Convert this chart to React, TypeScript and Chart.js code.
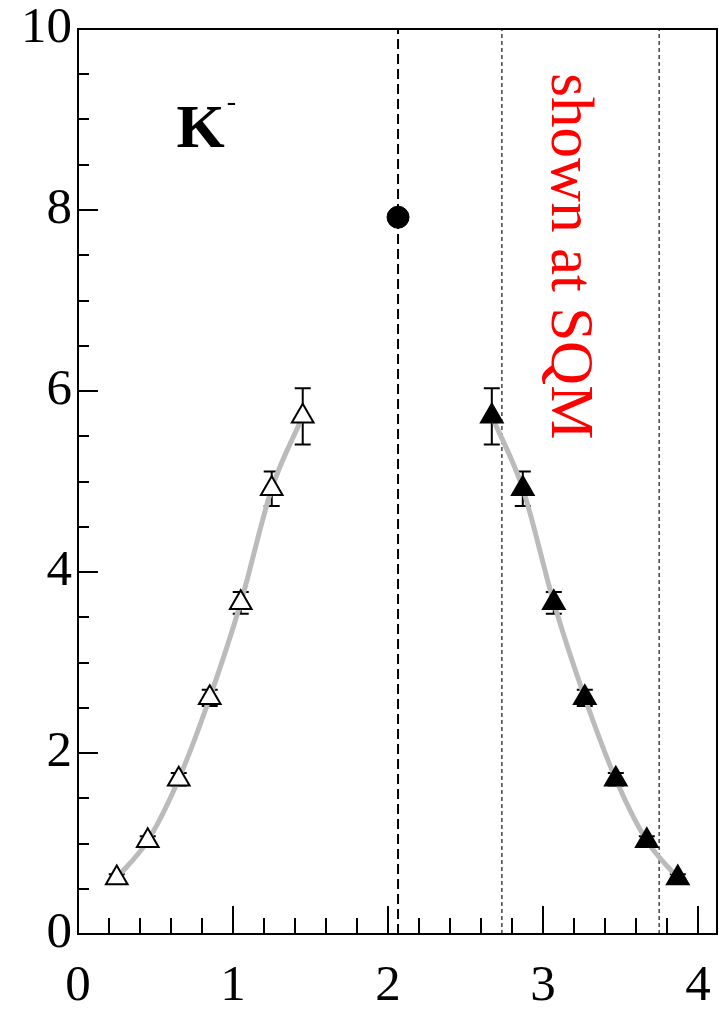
import React, { useEffect, useRef } from 'react';
import { Chart, registerables } from 'chart.js';
Chart.register(...registerables);

// ---- data ----
const leftX = [0.25, 0.45, 0.65, 0.85, 1.05, 1.25, 1.45];
const leftY = [0.62, 1.03, 1.71, 2.61, 3.66, 4.92, 5.72];
const leftErr = [0.04, 0.05, 0.07, 0.09, 0.12, 0.19, 0.31];
const rightX = [2.67, 2.87, 3.07, 3.27, 3.47, 3.67, 3.87];
const rightY = [5.72, 4.92, 3.66, 2.61, 1.71, 1.03, 0.62];
const rightErr = [0.31, 0.19, 0.12, 0.09, 0.07, 0.05, 0.04];
const midX = [2.065];
const midY = [7.92];
const dashedLineX = [2.065];
const dottedLinesX = [2.735, 3.75];
const xTickLabels = ['0', '1', '2', '3', '4'];
const yTickLabels = ['0', '2', '4', '6', '8', '10'];
const particleLabel = 'K';
const chargeLabel = '-';
const noteLabel = 'shown at SQM';
const X_MIN = 0;
const X_MAX = 4.123;
const Y_MIN = 0;
const Y_MAX = 10;

const SERIF = "'Liberation Serif', 'DejaVu Serif', serif";

const pts = (xs: number[], ys: number[]) => xs.map((x, i) => ({ x, y: ys[i] }));
const isInt = (v: number) => Math.abs(v - Math.round(v)) < 1e-6;
const zeroPad = () => ({ left: 0, top: 0, right: 0, bottom: 0 });

export default function App() {
  const ref = useRef<HTMLCanvasElement | null>(null);

  useEffect(() => {
    if (!ref.current) return;

    const errorBars = {
      id: 'errorBars',
      beforeDatasetsDraw(chart: any) {
        const { ctx } = chart;
        const xs = chart.scales.x;
        const ys = chart.scales.y;
        ctx.save();
        ctx.strokeStyle = '#000';
        ctx.lineWidth = 2;
        const draw = (X: number[], Y: number[], E: number[]) => {
          X.forEach((x, i) => {
            const px = xs.getPixelForValue(x);
            const top = ys.getPixelForValue(Y[i] + E[i]);
            const bot = ys.getPixelForValue(Y[i] - E[i]);
            ctx.beginPath();
            ctx.moveTo(px, top);
            ctx.lineTo(px, bot);
            ctx.moveTo(px - 8, top);
            ctx.lineTo(px + 8, top);
            ctx.moveTo(px - 8, bot);
            ctx.lineTo(px + 8, bot);
            ctx.stroke();
          });
        };
        draw(leftX, leftY, leftErr);
        draw(rightX, rightY, rightErr);
        ctx.restore();
      },
    };

    const frameAndTicks = {
      id: 'frameAndTicks',
      afterDraw(chart: any) {
        const { ctx, chartArea: a } = chart;
        const xs = chart.scales.x;
        const ys = chart.scales.y;
        ctx.save();
        ctx.strokeStyle = '#000';
        ctx.lineWidth = 2;
        ctx.strokeRect(a.left, a.top, a.right - a.left, a.bottom - a.top);
        ctx.beginPath();
        xs.ticks.forEach((t: any) => {
          if (t.value <= X_MIN + 1e-6) return;
          const px = Math.round(xs.getPixelForValue(t.value));
          const len = isInt(t.value) ? 28 : 16;
          ctx.moveTo(px, a.bottom);
          ctx.lineTo(px, a.bottom - len);
        });
        ys.ticks.forEach((t: any) => {
          if (t.value <= Y_MIN + 1e-6 || t.value >= Y_MAX - 1e-6) return;
          const py = Math.round(ys.getPixelForValue(t.value));
          const len = isInt(t.value / 2) ? 20 : 11;
          ctx.moveTo(a.left, py);
          ctx.lineTo(a.left + len, py);
        });
        ctx.stroke();

        // K- label
        ctx.fillStyle = '#000';
        ctx.textBaseline = 'alphabetic';
        ctx.textAlign = 'left';
        ctx.font = `bold 62px ${SERIF}`;
        const kx = xs.getPixelForValue(0.635);
        const ky = ys.getPixelForValue(8.7);
        ctx.fillText(particleLabel, kx, ky);
        const kw = ctx.measureText(particleLabel).width;
        ctx.font = `28px ${SERIF}`;
        ctx.fillText(chargeLabel, kx + kw + 2, ky - 37);

        // red rotated note
        ctx.fillStyle = '#ff0000';
        ctx.font = `61px ${SERIF}`;
        ctx.translate(xs.getPixelForValue(3.06), ys.getPixelForValue(9.51));
        ctx.rotate(Math.PI / 2);
        ctx.fillText(noteLabel, 0, 0);
        ctx.restore();
      },
    };

    const chart = new Chart(ref.current, {
      type: 'scatter',
      data: {
        datasets: [
          {
            data: pts(leftX, leftY),
            pointStyle: 'triangle',
            pointRadius: 12.5,
            pointBackgroundColor: '#fff',
            pointBorderColor: '#000',
            pointBorderWidth: 2,
            showLine: false,
            order: 0,
          },
          {
            data: pts(rightX, rightY),
            pointStyle: 'triangle',
            pointRadius: 12.5,
            pointBackgroundColor: '#000',
            pointBorderColor: '#000',
            pointBorderWidth: 2,
            showLine: false,
            order: 0,
          },
          {
            data: pts(midX, midY),
            pointStyle: 'circle',
            pointRadius: 11,
            pointBackgroundColor: '#000',
            pointBorderColor: '#000',
            pointBorderWidth: 1,
            showLine: false,
            order: 0,
          },
          {
            data: pts(leftX, leftY),
            showLine: true,
            borderColor: '#bbbbbb',
            borderWidth: 5,
            pointRadius: 0,
            cubicInterpolationMode: 'monotone',
            order: 2,
          },
          {
            data: pts(rightX, rightY),
            showLine: true,
            borderColor: '#bbbbbb',
            borderWidth: 5,
            pointRadius: 0,
            cubicInterpolationMode: 'monotone',
            order: 2,
          },
          {
            data: [
              { x: dashedLineX[0], y: Y_MIN },
              { x: dashedLineX[0], y: Y_MAX },
            ],
            showLine: true,
            borderColor: '#000',
            borderWidth: 2,
            borderDash: [10, 5],
            pointRadius: 0,
            order: 3,
          },
          ...dottedLinesX.map((x) => ({
            data: [
              { x, y: Y_MIN },
              { x, y: Y_MAX },
            ],
            showLine: true,
            borderColor: '#444',
            borderWidth: 1.5,
            borderDash: [4, 3],
            pointRadius: 0,
            order: 3,
          })),
        ],
      },
      options: {
        animation: false,
        responsive: true,
        maintainAspectRatio: false,
        layout: { autoPadding: false, padding: { top: 29, right: 2, left: 0, bottom: 0 } },
        plugins: { legend: { display: false }, tooltip: { enabled: false } },
        scales: {
          x: {
            type: 'linear',
            min: X_MIN,
            max: X_MAX,
            grid: { display: false, drawTicks: false },
            border: { display: false },
            afterFit: (s: any) => {
              s.height = 76;
              s.paddingLeft = 0;
              s.paddingRight = 0;
              s.paddingTop = 0;
              s.paddingBottom = 0;
              s.getPadding = zeroPad;
            },
            ticks: {
              stepSize: 0.2,
              includeBounds: false,
              autoSkip: false,
              maxRotation: 0,
              padding: 22,
              color: '#000',
              font: { family: SERIF, size: 51 },
              callback: (v: any) => (isInt(Number(v)) ? xTickLabels[Math.round(Number(v))] : ''),
            },
          },
          y: {
            type: 'linear',
            min: Y_MIN,
            max: Y_MAX,
            grid: { display: false, drawTicks: false },
            border: { display: false },
            afterFit: (s: any) => {
              s.width = 78;
              s.paddingLeft = 0;
              s.paddingRight = 0;
              s.paddingTop = 0;
              s.paddingBottom = 0;
              s.getPadding = zeroPad;
            },
            ticks: {
              stepSize: 0.5,
              autoSkip: false,
              padding: 6,
              color: '#000',
              font: { family: SERIF, size: 51 },
              callback: (v: any) => {
                const n = Number(v);
                return isInt(n / 2) ? yTickLabels[Math.round(n / 2)] : '';
              },
            },
          },
        },
      } as any,
      plugins: [errorBars, frameAndTicks],
    });
    return () => chart.destroy();
  }, []);

  return (
    <div style={{ position: 'fixed', left: 0, top: 0, width: 719, height: 1010, background: '#fff' }}>
      <canvas ref={ref} />
    </div>
  );
}
